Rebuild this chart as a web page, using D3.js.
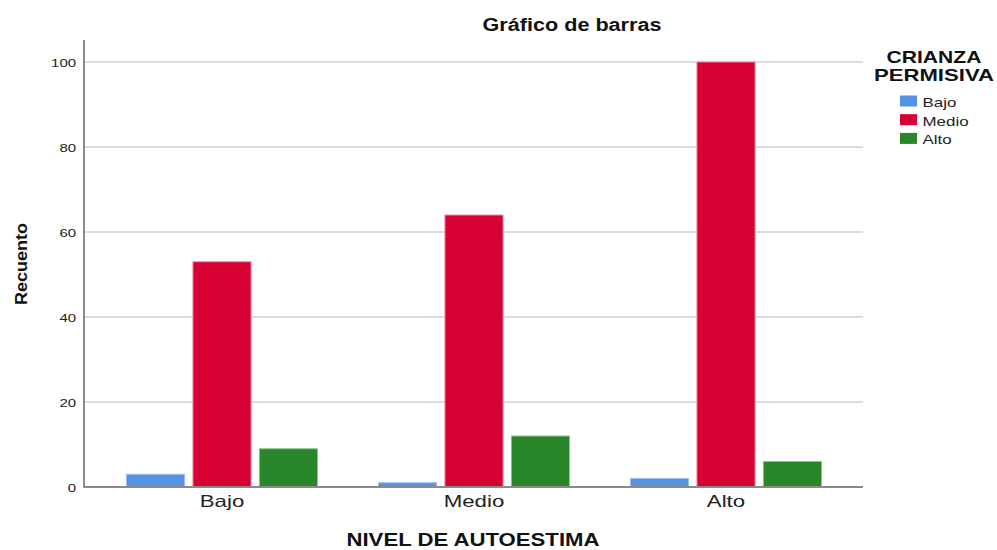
<!DOCTYPE html>
<html><head><meta charset="utf-8">
<script src="https://cdn.jsdelivr.net/npm/d3@7"></script>
<style>body{margin:0;background:#fff}svg{display:block;font-family:"Liberation Sans",Arial,sans-serif}</style>
</head><body>
<svg id="c" width="997" height="550"></svg>
<script>
const categories = ["Bajo", "Medio", "Alto"];
const seriesNames = ["Bajo", "Medio", "Alto"];
const seriesBajo = [3, 1, 2];
const seriesMedio = [53, 64, 100];
const seriesAlto = [9, 12, 6];
const yTicks = [0, 20, 40, 60, 80, 100];
const colors = ["#5592E3", "#D70032", "#2A862A"];
const strokes = ["#9cc0ee", "#f08aa2", "#8cc48c"];

const series = [seriesBajo, seriesMedio, seriesAlto];
const svg = d3.select("#c");
const plot = {left: 84, right: 863, top: 40, bottom: 487};

function stretch(sel, k) {
  sel.each(function() {
    const len = this.getComputedTextLength();
    d3.select(this).attr("textLength", len * k).attr("lengthAdjust", "spacingAndGlyphs");
  });
}

const y = d3.scaleLinear().domain([0, 100]).range([plot.bottom, 62]);
const x0 = d3.scaleBand().domain(categories).range([96, 852]).paddingInner(0).paddingOuter(0);
const x1 = d3.scaleBand().domain(seriesNames).range([0, 192]).paddingInner(0.11);
const groupOffset = (x0.bandwidth() - 192) / 2;

// gridlines
svg.append("g").selectAll("line").data(yTicks.filter(d => d > 0)).join("line")
  .attr("x1", plot.left).attr("x2", plot.right)
  .attr("y1", d => y(d)).attr("y2", d => y(d))
  .attr("stroke", "#d0d0d0").attr("stroke-width", 1.3);

// bars
const g = svg.append("g").selectAll("g").data(categories).join("g")
  .attr("transform", c => `translate(${x0(c) + groupOffset},0)`);
g.selectAll("rect").data((c, i) => seriesNames.map((s, j) => ({s, j, v: series[j][i]}))).join("rect")
  .attr("x", d => x1(d.s) + 0.5)
  .attr("width", x1.bandwidth() - 1)
  .attr("y", d => y(d.v))
  .attr("height", d => y(0) - y(d.v))
  .attr("fill", d => colors[d.j])
  .attr("stroke", d => strokes[d.j]).attr("stroke-width", 1);

// axes
const yAxis = d3.axisLeft(y).tickValues(yTicks).tickSize(0).tickPadding(8);
const ya = svg.append("g").attr("transform", `translate(${plot.left},0)`).call(yAxis);
ya.select(".domain").remove();
ya.selectAll("text").attr("font-size", 11.5).attr("fill", "#222").attr("font-family", "Liberation Sans, Arial, sans-serif")
  .attr("dy", "0.38em").call(stretch, 1.3);
svg.append("line").attr("x1", plot.left).attr("x2", plot.left).attr("y1", plot.top).attr("y2", plot.bottom + 1)
  .attr("stroke", "#8a8a8a").attr("stroke-width", 2);

const xAxis = d3.axisBottom(x0).tickSize(0).tickPadding(8);
const xa = svg.append("g").attr("transform", `translate(0,${plot.bottom})`).call(xAxis);
xa.select(".domain").remove();
xa.selectAll("text").attr("font-size", 16.5).attr("fill", "#222").attr("font-family", "Liberation Sans, Arial, sans-serif")
  .call(stretch, 1.35);
svg.append("line").attr("x1", plot.left).attr("x2", plot.right).attr("y1", plot.bottom).attr("y2", plot.bottom)
  .attr("stroke", "#8a8a8a").attr("stroke-width", 2);

// titles
svg.append("text").attr("x", 572).attr("y", 31).attr("text-anchor", "middle")
  .attr("font-size", 18).attr("font-weight", "bold").attr("fill", "#111").text("Gráfico de barras").call(stretch, 1.2);
svg.append("text").attr("transform", "translate(27,264) rotate(-90)").attr("text-anchor", "middle")
  .attr("font-size", 17).attr("font-weight", "bold").attr("fill", "#111").text("Recuento").call(stretch, 1.06);
svg.append("text").attr("x", 473).attr("y", 546).attr("text-anchor", "middle")
  .attr("font-size", 18).attr("font-weight", "bold").attr("fill", "#111").text("NIVEL DE AUTOESTIMA").call(stretch, 1.23);

// legend
const lg = svg.append("g");
lg.append("text").attr("x", 934).attr("y", 63).attr("text-anchor", "middle")
  .attr("font-size", 17).attr("font-weight", "bold").attr("fill", "#111").text("CRIANZA").call(stretch, 1.24);
lg.append("text").attr("x", 934).attr("y", 80.5).attr("text-anchor", "middle")
  .attr("font-size", 17).attr("font-weight", "bold").attr("fill", "#111").text("PERMISIVA").call(stretch, 1.3);
const items = lg.selectAll("g.it").data(seriesNames).join("g").attr("class", "it")
  .attr("transform", (d, i) => `translate(900,${95.5 + i * 18.7})`);
items.append("rect").attr("width", 17).attr("height", 11).attr("fill", (d, i) => colors[i]);
items.append("text").attr("x", 22.5).attr("y", 11.5).attr("font-size", 13).attr("fill", "#222").text(d => d).call(stretch, 1.3);
</script>
</body></html>
